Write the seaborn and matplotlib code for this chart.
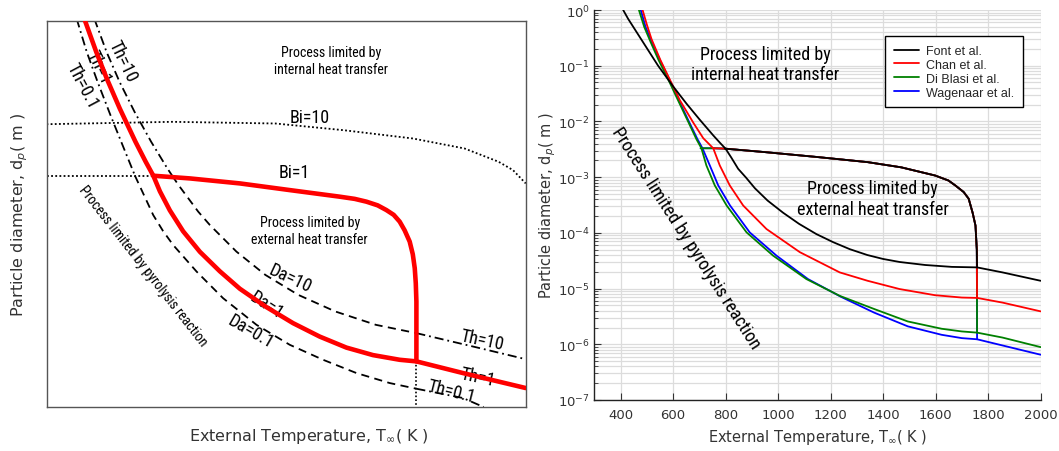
import os
import numpy as np
import pandas as pd
import matplotlib
matplotlib.use("Agg")
import matplotlib.pyplot as plt
import seaborn as sns
from matplotlib import font_manager as fm
from matplotlib.lines import Line2D
from matplotlib.ticker import NullFormatter

# ---------------- Right panel data (T in K, d in m) ----------------
models = ["Font et al.", "Chan et al.", "Di Blasi et al.", "Wagenaar et al."]
model_colors = ["#000000", "#ff0000", "#008000", "#0000ff"]

font_T = [410, 429, 486, 543, 600, 651, 702, 753, 780, 800, 822, 848, 878, 912, 960, 1019, 1080, 1146, 1210,
          1273, 1340, 1400, 1463, 1560, 1662, 1758, 1855, 2000]
font_d = [1.0, 0.692, 0.263, 0.1, 0.0427, 0.0209, 0.0107, 0.00562, 0.00407, 0.00324, 0.00224, 0.00141,
          9.8e-4, 6.3e-4, 3.8e-4, 2.3e-4, 1.45e-4, 9.5e-5, 6.8e-5, 5.1e-5, 4.0e-5, 3.4e-5, 3.0e-5, 2.65e-5,
          2.45e-5, 2.4e-5, 1.95e-5, 1.38e-5]

chan_T = [484, 500, 518, 552, 588, 626, 677, 715, 753, 778, 816, 867, 956, 1083, 1235, 1341, 1463, 1598, 1700,
          1758, 1855, 2000]
chan_d = [1.0, 0.55, 0.30, 0.126, 0.056, 0.024, 0.0095, 0.0050, 0.0033, 0.00162, 7.1e-4, 3.1e-4, 1.17e-4,
          4.5e-5, 1.95e-5, 1.38e-5, 9.8e-6, 7.6e-6, 6.9e-6, 6.8e-6, 5.6e-6, 3.9e-6]

diblasi_T = [470, 490, 515, 545, 581, 620, 658, 689, 708, 727, 759, 804, 880, 981, 1108, 1235, 1366, 1494,
             1623, 1700, 1758, 1855, 2000]
diblasi_d = [1.0, 0.50, 0.263, 0.126, 0.0575, 0.0234, 0.0098, 0.0048, 0.0033, 0.00162, 7.1e-4, 3.1e-4,
             1.02e-4, 3.9e-5, 1.48e-5, 7.4e-6, 4.3e-6, 2.57e-6, 1.9e-6, 1.7e-6, 1.62e-6, 1.32e-6, 8.9e-7]

wagenaar_T = [477, 495, 520, 550, 585, 623, 661, 693, 712, 740, 772, 817, 892, 994, 1114, 1240, 1366, 1494,
              1623, 1700, 1758, 2000]
wagenaar_d = [1.0, 0.50, 0.263, 0.126, 0.0575, 0.0234, 0.0098, 0.0048, 0.0033, 0.00162, 7.1e-4, 3.1e-4,
              1.02e-4, 3.9e-5, 1.48e-5, 7.1e-6, 3.7e-6, 2.1e-6, 1.48e-6, 1.29e-6, 1.23e-6, 6.5e-7]

# shared Bi = 1 plateau
plateau_T = [705, 753, 797, 955, 1148, 1341, 1469, 1598, 1649, 1675, 1707, 1726, 1741, 1752, 1757]
plateau_d = [3.3e-3, 3.3e-3, 3.25e-3, 2.8e-3, 2.3e-3, 1.86e-3, 1.5e-3, 1.07e-3, 8.7e-4, 7.1e-4, 5.4e-4,
             4.1e-4, 2.3e-4, 1.35e-4, 5.0e-5]
plateau_start = [797, 753, 705, 705]
T_vertical = 1758

x_ticks = [400, 600, 800, 1000, 1200, 1400, 1600, 1800, 2000]

# ---------------- Left panel (schematic, arbitrary units) ----------------
L_th1_x = [81.6, 93.2, 103.4, 116.0, 131.2, 141.1, 148.5, 154.9, 164.5, 177.4, 193.6, 212.9, 232.3, 258.2,
           283.9, 309.8, 335.6, 361.3, 387.2, 403.4, 448.5, 509.3]
L_th1_y = [20, 53.3, 80, 110, 143.3, 163.3, 177.3, 193, 212, 233, 253.5, 273, 290.5, 309, 325, 338.5, 349.5,
           357, 361.7, 363.3, 375, 390]

L_th10_x = [91.3, 103.2, 115.8, 130.3, 146.4, 162.1, 166.8, 172.9, 192.0, 203.3, 229.0, 257.1, 289.0, 324.8,
            364.2, 403.4, 464.7, 508.9]
L_th10_y = [20, 53.3, 83.3, 113.3, 143.3, 170, 177.3, 186.7, 213.3, 226.7, 253.3, 276.7, 296.7, 313.3, 326.7,
            335, 350, 361]

L_th01_x = [74.2, 84.0, 94.5, 107.0, 120.0, 130.5, 130.7, 148.4, 157.8, 167.7, 190.4, 216.1, 248.5, 280.7,
            313.0, 345.3, 377.5, 403.4, 448.5, 468.5]
L_th01_y = [20, 53.3, 83.3, 116.7, 150, 176.7, 177.3, 216.7, 232.5, 246.7, 273.3, 300, 326.7, 346.7, 361.7,
            375, 385, 390.7, 400, 409]

L_bi10_x = [45, 167, 267, 333, 400, 450, 483, 497, 509.3]
L_bi10_y = [125.7, 123.3, 125, 131.7, 140, 150, 163.3, 171.7, 185]

L_bi1_x = [45, 148.5]
L_bi1_y = [177.3, 177.3]

L_plat_x = [148.5, 183.9, 232.3, 280.7, 329.1, 343.6, 355.0, 365.9, 374.3, 381.4, 387.2, 392.0, 396.9, 399.9,
            401.8, 402.8, 403.4, 403.4]
L_plat_y = [177.3, 180, 185, 191.7, 198.3, 200.5, 203.3, 207, 211.7, 216.5, 223.3, 232, 243.3, 256, 270, 285,
            303.3, 363.3]

L_vert_x = [403.4, 403.4]
L_vert_y = [363.3, 409]

# ---------------- fonts ----------------
def find_narrow():
    bad = ("bold", "italic", "oblique", "light", "thin", "medium", "black", "semi", "extra", "heavy", "mono", "serif")
    cands = []
    for f in fm.fontManager.ttflist:
        base = os.path.basename(f.fname).lower()
        if ("narrow" in base or "condensed" in base or "narrow" in f.name.lower()) and not any(b in base for b in bad):
            score = 0 if "liberation" in base else (1 if "roboto" in base else (2 if "noto" in base else 3))
            cands.append((score, f.fname))
    if cands:
        cands.sort()
        return fm.FontProperties(fname=cands[0][1])
    return None


narrow_fp = find_narrow()
narrow_scale = 1.0 if narrow_fp is not None else 0.82

sns.set_style("white")
plt.rcParams["font.family"] = ["DejaVu Sans"]
plt.rcParams["mathtext.fontset"] = "dejavusans"

fig = plt.figure(figsize=(10.59, 4.52), dpi=100)
axL = fig.add_axes([46.5 / 1059, 44 / 452, 479.2 / 1059, 386.3 / 452])
axR = fig.add_axes([594.3 / 1059, 51 / 452, 446.3 / 1059, 390 / 452])


def line(ax, x, y, **kw):
    df = pd.DataFrame({"x": x, "y": y})
    sns.lineplot(data=df, x="x", y="y", ax=ax, sort=False, estimator=None, legend=False, **kw)


def ntext(ax, x, y, s, size, **kw):
    if narrow_fp is not None:
        fp = narrow_fp.copy()
        fp.set_size(size)
        ax.text(x, y, s, fontproperties=fp, ha="center", va="center", rotation_mode="anchor", color="black", **kw)
    else:
        ax.text(x, y, s, family=["Liberation Sans", "DejaVu Sans"], fontsize=size * narrow_scale,
                ha="center", va="center", rotation_mode="anchor", color="black", **kw)


# ----- left panel -----
DASHDOT = (0, (5, 2.2, 1, 2.2))
DASHED = (0, (4.5, 3))
DOTTED = (0, (1, 1.3))


def styled_curve(ax, xs, ys):
    xs = np.asarray(xs, float)
    ys = np.asarray(ys, float)
    top = ys <= 177.3
    mid = (ys >= 177.3) & (xs <= 403.4)
    right = xs >= 403.4
    for m, ls in ((top, DASHDOT), (mid, DASHED), (right, DASHDOT)):
        line(ax, xs[m], ys[m], color="black", lw=1.3, linestyle=ls)


styled_curve(axL, L_th10_x, L_th10_y)
styled_curve(axL, L_th01_x, L_th01_y)
line(axL, L_bi10_x, L_bi10_y, color="black", lw=1.3, linestyle=DOTTED)
line(axL, L_bi1_x, L_bi1_y, color="black", lw=1.3, linestyle=DOTTED)
line(axL, L_vert_x, L_vert_y, color="black", lw=1.2, linestyle=DOTTED)
line(axL, L_th1_x, L_th1_y, color="#ff0000", lw=3.3, zorder=5, solid_joinstyle="round")
line(axL, L_plat_x, L_plat_y, color="#ff0000", lw=3.3, zorder=5, solid_joinstyle="round")

axL.set_xlim(45, 509.3)
axL.set_ylim(409, 22)
axL.set_xticks([])
axL.set_yticks([])
for s in axL.spines.values():
    s.set_color("#555555")
    s.set_linewidth(1.0)
axL.set_xlabel("External Temperature, T$_\\infty$( K )", fontsize=11.5, color="#333333")
axL.xaxis.set_label_coords((309 - 46.5) / 479.2, -0.05)
axL.set_ylabel("Particle diameter, d$_p$( m )", fontsize=11.5, color="#333333", labelpad=12)

ntext(axL, 320.8, 62, "Process limited by\ninternal heat transfer", 10, linespacing=1.3)
ntext(axL, 300, 232, "Process limited by\nexternal heat transfer", 10, linespacing=1.3)
ntext(axL, 300, 118, "Bi=10", 13)
ntext(axL, 285, 174, "Bi=1", 13)
ntext(axL, 119, 62, "Th=10", 13, rotation=-64)
ntext(axL, 96, 68, "Th=1", 13, rotation=-64)
ntext(axL, 79.4, 87, "Th=0.1", 13, rotation=-62)
ntext(axL, 138, 267, "Process limited by pyrolysis reaction", 10, rotation=-52)
ntext(axL, 280.7, 280, "Da=10", 13, rotation=-25)
ntext(axL, 258.5, 306, "Da=1", 13, rotation=-33)
ntext(axL, 243, 333, "Da=0.1", 13, rotation=-30)
ntext(axL, 467.5, 342, "Th=10", 13, rotation=-12)
ntext(axL, 462.7, 379, "Th=1", 13, rotation=-12)
ntext(axL, 437.5, 393, "Th=0.1", 13, rotation=-14)

# ----- right panel -----
axR.set_yscale("log")
series = list(zip(models, model_colors, [font_T, chan_T, diblasi_T, wagenaar_T],
                  [font_d, chan_d, diblasi_d, wagenaar_d], plateau_start))
pT = np.asarray(plateau_T, float)
pD = np.asarray(plateau_d, float)
for k, (name, col, T, d, start) in enumerate(reversed(series)):
    z = 3 + k
    line(axR, T, d, color=col, lw=1.3, zorder=z)
    T = np.asarray(T, float)
    d = np.asarray(d, float)
    m = pT >= start
    px = np.append(pT[m], T_vertical)
    py = np.append(pD[m], d[T == T_vertical][0])
    line(axR, px, py, color=col, lw=1.3, zorder=z)

axR.set_xlim(300, 2000)
axR.set_ylim(1e-7, 1)
axR.set_xticks(x_ticks)
axR.set_xticklabels([str(v) for v in x_ticks])
axR.yaxis.set_minor_formatter(NullFormatter())
axR.xaxis.set_minor_formatter(NullFormatter())
axR.grid(True, which="major", axis="both", color="#dcdcdc", lw=0.9)
axR.grid(True, which="minor", axis="y", color="#dcdcdc", lw=0.9)
axR.set_axisbelow(True)
axR.tick_params(axis="both", which="both", direction="in", labelsize=9.5, labelcolor="#333333", color="#333333")
axR.tick_params(axis="y", which="major", length=5, width=0.8, left=True, pad=3)
axR.tick_params(axis="y", which="minor", length=3, width=0.6, left=True)
axR.tick_params(axis="x", which="major", length=5, width=0.8, bottom=True, pad=6)
axR.tick_params(axis="x", which="minor", bottom=False)
for s in ("top", "right"):
    axR.spines[s].set_visible(False)
for s in ("left", "bottom"):
    axR.spines[s].set_color("#222222")
    axR.spines[s].set_linewidth(1.0)
axR.set_xlabel("External Temperature, T$_\\infty$( K )", fontsize=10.5, color="#333333", labelpad=4)
axR.set_ylabel("Particle diameter, d$_p$( m )", fontsize=10.5, color="#333333", labelpad=0)

ntext(axR, 950, 0.107, "Process limited by\ninternal heat transfer", 13, linespacing=1.2)
ntext(axR, 1360, 4.07e-4, "Process limited by\nexternal heat transfer", 13, linespacing=1.2)
ntext(axR, 649, 8.3e-5, "Process limited by pyrolysis reaction", 13, rotation=-57.2)

handles = [Line2D([0], [0], color=c, lw=1.3) for c in model_colors]
leg = axR.legend(handles, models, loc="upper right", bbox_to_anchor=(0.961, 0.933),
                 prop={"family": ["Liberation Sans", "DejaVu Sans"], "size": 9},
                 frameon=True, fancybox=False, edgecolor="black", framealpha=1, handlelength=2.0,
                 borderpad=0.7, labelspacing=0.15, handletextpad=0.6, borderaxespad=0)
leg.get_frame().set_linewidth(1.0)

fig.savefig("out.png", dpi=100)
